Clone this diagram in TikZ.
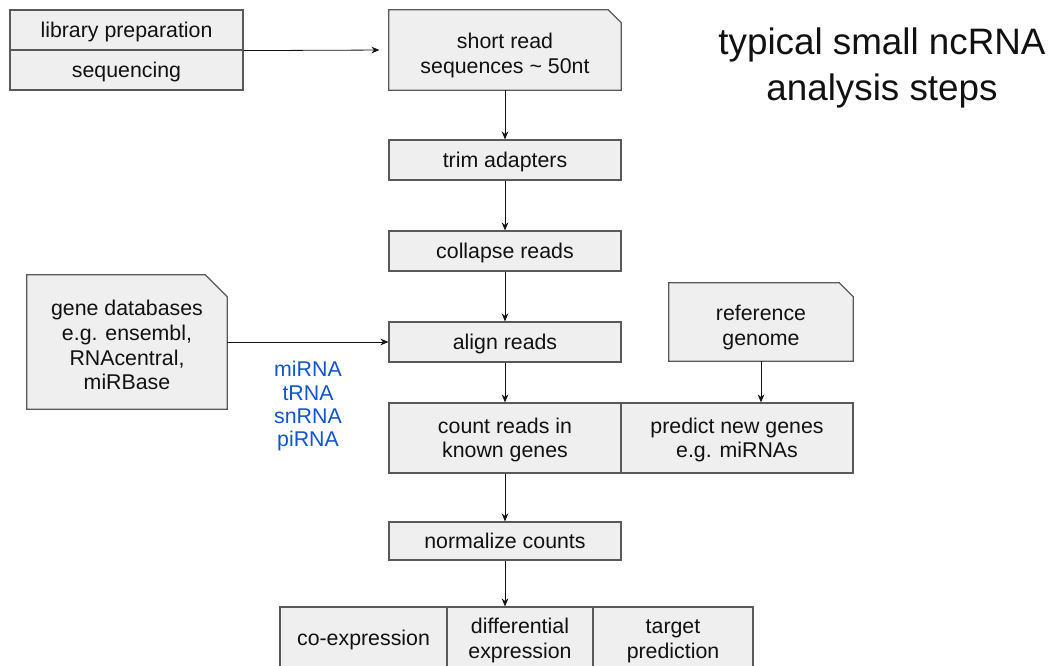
\documentclass[tikz,border=0pt]{standalone}
\usepackage{fontspec}
\setmainfont{Liberation Sans}
\usetikzlibrary{arrows.meta,backgrounds}
\definecolor{boxgray}{HTML}{EFEFEF}
\definecolor{bordergray}{HTML}{595959}
\definecolor{txt}{HTML}{111111}
\definecolor{gblue}{HTML}{1155CC}
\newcommand\lstrut{\rule[-0.212em]{0pt}{1.117em}}
\newcommand\dstrut{\rule[-0.212em]{0pt}{1.445em}}
\newcommand\docshape[2]{%
  \begin{pgfonlayer}{background}
  \filldraw[docline] (#1.north west) -- ([xshift=-#2]#1.north east) -- ([yshift=-#2]#1.north east)
    -- (#1.south east) -- (#1.south west) -- cycle;
  \end{pgfonlayer}}
\tikzset{
  base/.style={align=center, inner sep=0pt},
  box/.style={base, draw=bordergray, fill=boxgray, line width=0.9pt, text=txt,
    font=\fontsize{16}{18.5}\selectfont},
  doc/.style={base, rectangle, text=txt, font=\fontsize{16}{18.5}\selectfont},
  docline/.style={draw=bordergray, fill=boxgray, line width=0.9pt},
  arr/.style={-{Stealth[length=6pt,width=5pt]}, line width=0.6pt, draw=txt},
}
\begin{document}
\begin{tikzpicture}[x=0.75pt,y=-0.75pt]
\useasboundingbox (0,0) rectangle (1050,666);
\clip (0,0) rectangle (1050,666);
% top left stack
\node[box, minimum width=233*0.75pt, minimum height=40*0.75pt] (lib) at (126.5,30) {\lstrut library preparation};
\node[box, minimum width=233*0.75pt, minimum height=40*0.75pt] (seq) at (126.5,70) {\lstrut sequencing};
% main column
\node[doc, minimum width=232*0.75pt, minimum height=80*0.75pt] (short) at (505,50) {\dstrut short read\\sequences \char`~\ 50nt\lstrut};
\docshape{short}{9.75pt}
\node[box, minimum width=232*0.75pt, minimum height=40*0.75pt] (trim) at (505,160) {\lstrut trim adapters};
\node[box, minimum width=232*0.75pt, minimum height=40*0.75pt] (collapse) at (505,251) {\lstrut collapse reads};
\node[box, minimum width=232*0.75pt, minimum height=40*0.75pt] (align) at (505,342) {\lstrut align reads};
\node[box, minimum width=232*0.75pt, minimum height=70*0.75pt] (count) at (505,438) {\lstrut count reads in\\known genes\lstrut};
\node[box, minimum width=232*0.75pt, minimum height=70*0.75pt] (predict) at (737,438) {\lstrut predict new genes\\e.g. miRNAs\lstrut};
\node[box, minimum width=232*0.75pt, minimum height=38*0.75pt] (norm) at (505,541) {\lstrut normalize counts};
% bottom row
\node[box, minimum width=167*0.75pt, minimum height=63*0.75pt] (coexp) at (363.5,638.5) {\lstrut co-expression};
\node[box, minimum width=146*0.75pt, minimum height=63*0.75pt] (diff) at (520,638.5) {\lstrut differential\\expression\lstrut};
\node[box, minimum width=160*0.75pt, minimum height=63*0.75pt] (target) at (673,638.5) {\lstrut target\\prediction\lstrut};
% side documents
\node[doc, minimum width=200*0.75pt, minimum height=134*0.75pt] (genedb) at (127,342) {\dstrut gene databases\\e.g. ensembl,\\RNAcentral,\\miRBase\lstrut};
\docshape{genedb}{16.5pt}
\node[doc, minimum width=184*0.75pt, minimum height=78*0.75pt] (refgen) at (761,322) {\dstrut reference\\genome\lstrut};
\docshape{refgen}{10.5pt}
% labels
\node[base, text=gblue, font=\fontsize{16}{17.5}\selectfont] (rnas) at (308,404.6) {\lstrut miRNA\\tRNA\\snRNA\\piRNA\lstrut};
\node[base, text=txt, font=\fontsize{27.6}{34.5}\selectfont] (title) at (882,65.25) {\lstrut typical small ncRNA\\analysis steps\lstrut};
% connectors
\draw[arr, shorten >=7pt] (lib.south east) -- (short.west);
\draw[arr] (short.south) -- (trim.north);
\draw[arr] (trim.south) -- (collapse.north);
\draw[arr] (collapse.south) -- (align.north);
\draw[arr] (genedb.east) -- (align.west);
\draw[arr] (align.south) -- (count.north);
\draw[arr] (refgen.south) -- (refgen.south |- predict.north);
\draw[arr] (count.south) -- (norm.north);
\draw[arr] (norm.south) -- (norm.south |- diff.north);
\end{tikzpicture}
\end{document}
